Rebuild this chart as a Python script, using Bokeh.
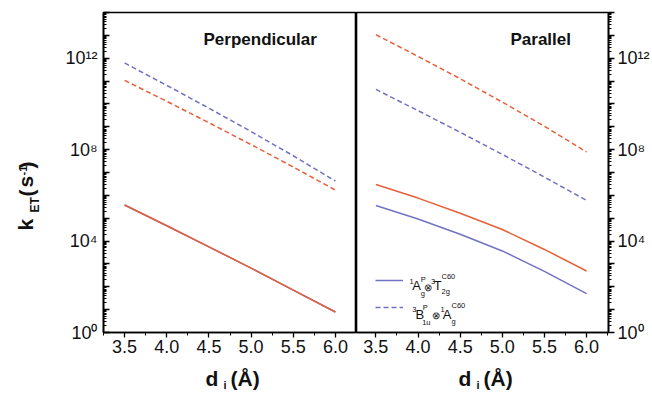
import math
from bokeh.plotting import figure
from bokeh.models import (FixedTicker, CustomJSTickFormatter, NumeralTickFormatter,
                          Label, Legend, LegendItem, Range1d)
from bokeh.core.properties import value
from bokeh.layouts import row, column
from bokeh.embed import file_html
from bokeh.resources import INLINE

# ---- data ----
d_i = [3.5, 4.0, 4.5, 5.0, 5.5, 6.0]
perp_solid_blue = [3.8e5, 4.7e4, 5.6e3, 650, 72, 7.9]
perp_solid_red = [3.8e5, 4.7e4, 5.6e3, 650, 72, 7.9]
perp_dash_blue = [6.2e11, 6.5e10, 6.5e9, 6.2e8, 5.4e7, 4.2e6]
perp_dash_red = [1.07e11, 1.3e10, 1.5e9, 1.66e8, 1.74e7, 1.7e6]
par_solid_blue = [3.6e5, 9.3e4, 2.0e4, 3.7e3, 470, 50]
par_solid_red = [3.0e6, 7.6e5, 1.66e5, 3.2e4, 4.3e3, 490]
par_dash_blue = [4.3e10, 5.1e9, 5.75e8, 6.2e7, 6.3e6, 6.0e5]
par_dash_red = [1.07e13, 1.2e12, 1.26e11, 1.2e10, 1.05e9, 7.9e7]
x_ticks = [3.5, 4.0, 4.5, 5.0, 5.5, 6.0]
x_minor = [3.25, 3.75, 4.25, 4.75, 5.25, 5.75, 6.25]
y_major = [10.0 ** k for k in range(0, 15)]
y_minor = [m * 10.0 ** k for k in range(0, 14) for m in range(2, 10)]
panel_titles = ["Perpendicular", "Parallel"]

RED = "#e6613a"
BLUE = "#7272c4"
FONT = "Liberation Sans"
TXT = "#111111"

fmt = CustomJSTickFormatter(code="""
const e = Math.round(Math.log10(tick));
if (e % 4 !== 0) { return ""; }
const sup = {"0": "\\u2070", "1": "\\u00b9", "2": "\\u00b2", "4": "\\u2074", "8": "\\u2078"};
let s = "";
for (const c of String(e)) { s += sup[c]; }
return "10" + s;
""")

PH = 362  # height of the two panels (frame 320 px)


def make_fig(width, side, xr):
    p = figure(width=width, height=PH, y_axis_type="log", output_backend="svg",
               toolbar_location=None, y_axis_location=side,
               x_range=Range1d(*xr), y_range=Range1d(1, 1e14),
               min_border_top=12, min_border_bottom=30,
               min_border_left=58 if side == "left" else 0,
               min_border_right=0 if side == "left" else 44)
    p.xgrid.grid_line_color = None
    p.ygrid.grid_line_color = None
    p.outline_line_color = "black"
    p.outline_line_width = 1.6
    p.background_fill_color = "white"
    p.border_fill_color = "white"
    xa = p.xaxis[0]
    xa.ticker = FixedTicker(ticks=x_ticks, minor_ticks=x_minor)
    xa.formatter = NumeralTickFormatter(format="0.0")
    xa.major_tick_in = 0
    xa.major_tick_out = 5
    xa.minor_tick_in = 0
    xa.minor_tick_out = 3
    xa.major_label_standoff = 2
    ya = p.yaxis[0]
    ya.ticker = FixedTicker(ticks=y_major, minor_ticks=y_minor)
    ya.formatter = fmt
    if side == "left":
        ya.major_tick_in = 6
        ya.major_tick_out = 0
        ya.minor_tick_in = 3
        ya.minor_tick_out = 0
        ya.major_label_standoff = 6
    else:
        ya.major_tick_in = 0
        ya.major_tick_out = 6
        ya.minor_tick_in = 0
        ya.minor_tick_out = 3
        ya.major_label_standoff = 3
    for ax in (xa, ya):
        ax.axis_line_color = "black"
        ax.axis_line_width = 1.6
        ax.major_tick_line_color = "black"
        ax.major_tick_line_width = 1.3
        ax.minor_tick_line_color = "black"
        ax.minor_tick_line_width = 1
        ax.major_label_text_font = FONT
        ax.major_label_text_font_size = "18px"
        ax.major_label_text_color = TXT
    return p


def text_fig(width, height):
    f = figure(width=width, height=height, output_backend="svg", toolbar_location=None,
               x_axis_location=None, y_axis_location=None, min_border=0, title=None,
               x_range=Range1d(0, width), y_range=Range1d(0, height))
    f.xgrid.grid_line_color = None
    f.ygrid.grid_line_color = None
    f.outline_line_color = None
    f.background_fill_color = "white"
    f.border_fill_color = "white"
    return f


def lab(p, x, y, text, size, bold=False):
    p.add_layout(Label(x=x, y=y, x_units="screen", y_units="screen", text=text,
                       text_font=FONT, text_font_size=f"{size}px",
                       text_font_style="bold" if bold else "normal",
                       text_color=TXT, text_align="left", text_baseline="middle"))


def gtext(f, xs, ys, texts, size, angle=0.0):
    f.text(x=xs, y=ys, text=texts, angle=angle, text_font=value(FONT),
           text_font_size=f"{size}px", text_font_style="bold", text_color=TXT,
           text_align="left", text_baseline="middle")


p1 = make_fig(311, "left", (3.25, 6.25))
p2 = make_fig(296, "right", (3.27, 6.26))

p1.line(d_i, perp_solid_blue, line_color=BLUE, line_width=1.5)
p1.line(d_i, perp_solid_red, line_color=RED, line_width=1.5)
p1.line(d_i, perp_dash_blue, line_color=BLUE, line_width=1.5, line_dash="5 3")
p1.line(d_i, perp_dash_red, line_color=RED, line_width=1.5, line_dash="5 3")

r_sb = p2.line(d_i, par_solid_blue, line_color=BLUE, line_width=1.5)
p2.line(d_i, par_solid_red, line_color=RED, line_width=1.5)
r_db = p2.line(d_i, par_dash_blue, line_color=BLUE, line_width=1.5, line_dash="5 3")
p2.line(d_i, par_dash_red, line_color=RED, line_width=1.5, line_dash="5 3")

# panel titles
lab(p1, 100, 293, panel_titles[0], 17, bold=True)
lab(p2, 154, 293, panel_titles[1], 17, bold=True)

# y axis title: k_ET (s^-1), rotated, in its own strip (data units = pixels)
yt = text_fig(45, 393)
A = math.pi / 2
gtext(yt, [25], [163], ["k"], 21, A)
gtext(yt, [34.8], [181], ["ET"], 12, A)
gtext(yt, [26, 25, 26], [197, 206, 225], ["(", "s", ")"], 21, A)
gtext(yt, [22.2], [218], ["-1"], 11, A)

# x axis titles: d_i (Å)
xt1 = text_fig(311, 393 - PH)
xt2 = text_fig(296, 393 - PH)
for f, x0 in ((xt1, 160), (xt2, 102)):
    gtext(f, [x0, x0 + 25], [15.4, 15.4], ["d", "(\u00c5)"], 21)
    gtext(f, [x0 + 18], [8.9], ["i"], 11)

# legend (sample lines) with formula text drawn beside it
legend = Legend(items=[LegendItem(label=value(" "), renderers=[r_sb]),
                       LegendItem(label=value(" "), renderers=[r_db])],
                location=(19, 15), padding=0, margin=0, spacing=7,
                glyph_width=28, glyph_height=20, label_height=20, label_width=0,
                label_standoff=0, border_line_alpha=0, background_fill_alpha=0)
p2.add_layout(legend)

S = 7.5
# row 1: 1A_g^P (x) 3T_2g^C60
lab(p2, 53, 51.1, "1", S)
lab(p2, 55.7, 46.6, "A", 13)
lab(p2, 64.3, 52.6, "P", S)
lab(p2, 64.3, 38.6, "g", S)
lab(p2, 67.0, 45.2, "\u2297", 10)
lab(p2, 74.5, 51.1, "3", S)
lab(p2, 77.3, 46.6, "T", 13)
lab(p2, 85, 56.1, "C60", S)
lab(p2, 85, 40.6, "2g", S)
# row 2: 3B_1u^P (x) 1A_g^C60
lab(p2, 55.7, 22.6, "3", S)
lab(p2, 59, 18.3, "B", 13)
lab(p2, 66.3, 24.6, "P", S)
lab(p2, 65.7, 10.1, "1u", S)
lab(p2, 75.4, 17.2, "\u2297", 10)
lab(p2, 84, 22.6, "1", S)
lab(p2, 86.3, 18.3, "A", 13)
lab(p2, 95, 26.9, "C60", S)
lab(p2, 95, 11.1, "g", S)

layout = row(yt, column(row(p1, p2), row(xt1, xt2)))
open("out.html", "w").write(file_html(layout, INLINE))
